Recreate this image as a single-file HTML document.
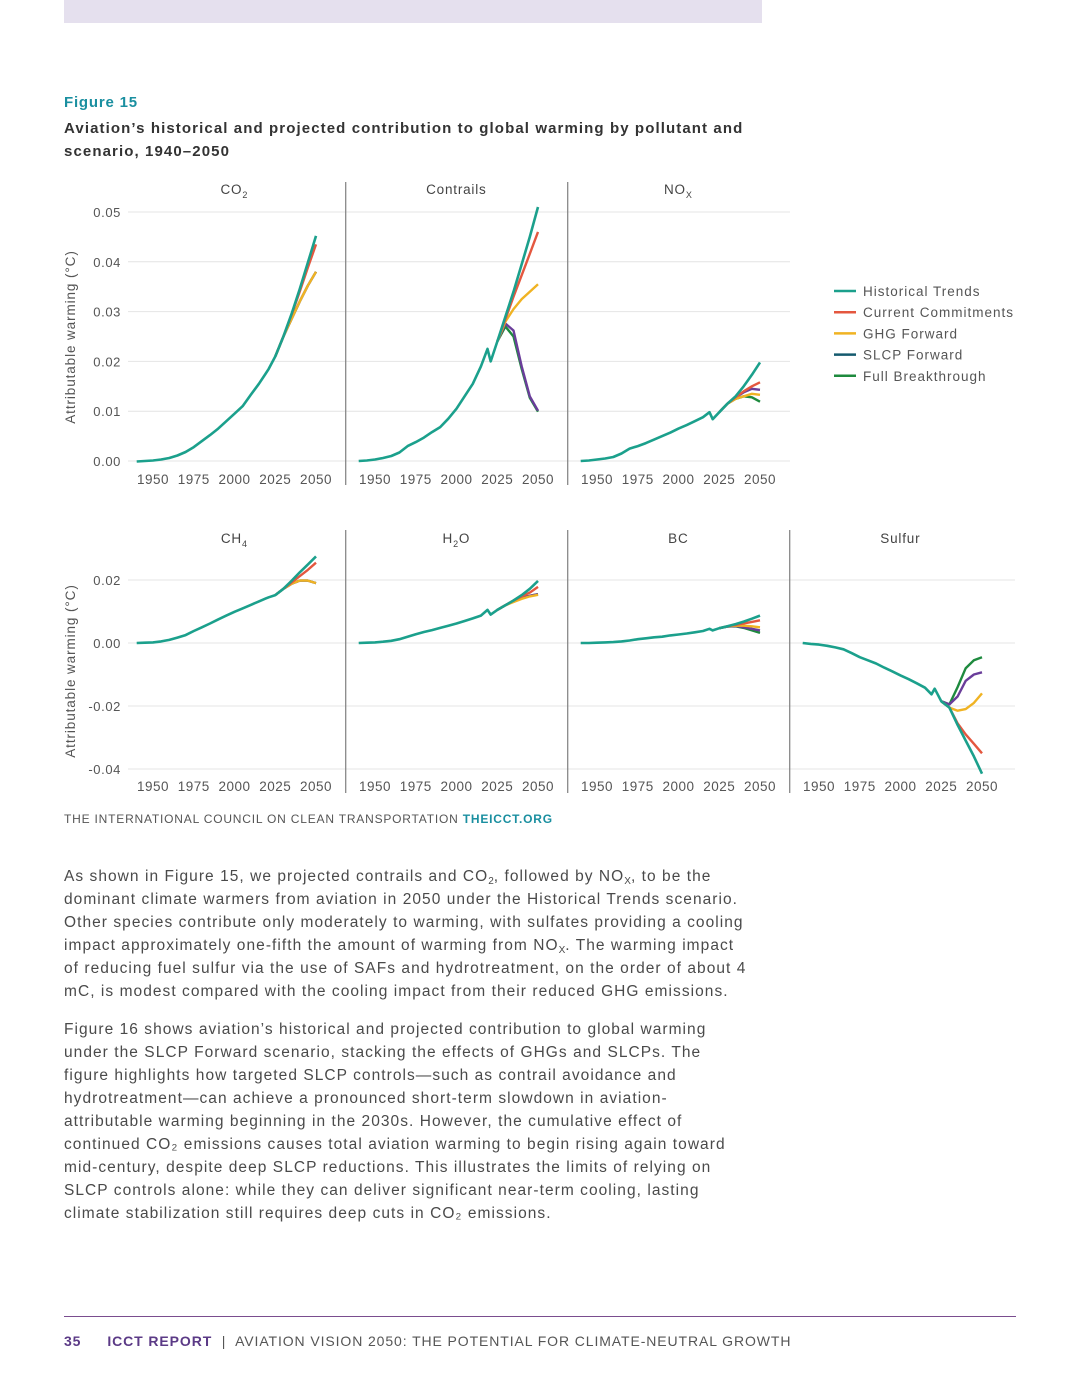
<!DOCTYPE html>
<html><head><meta charset="utf-8">
<style>
body{margin:0;width:1080px;height:1398px;background:#fff;position:relative;font-family:"Liberation Sans",sans-serif;overflow:hidden}
.abs{position:absolute}
.p{position:absolute;left:64px;width:760px;font-size:15.5px;line-height:23px;color:#4a4a4a;white-space:nowrap;letter-spacing:1.05px}
sub{font-size:10px;vertical-align:-3px;line-height:0;letter-spacing:0}
</style></head><body>
<div class="abs" style="left:64px;top:0;width:698px;height:23px;background:#e5e0ee"></div>
<div class="abs" style="left:64px;top:94px;font-size:15px;font-weight:bold;color:#1a8fa0;letter-spacing:0.8px">Figure 15</div>
<div class="abs" style="left:64px;top:117px;width:760px;font-size:15px;font-weight:bold;line-height:23px;color:#333;letter-spacing:1.1px;white-space:nowrap">Aviation’s historical and projected contribution to global warming by pollutant and<br>scenario, 1940–2050</div>
<svg class="abs" style="left:0;top:0" width="1080" height="830" id="chart"></svg>
<div class="abs" style="left:64px;top:812px;font-size:12px;color:#555;letter-spacing:0.8px">THE INTERNATIONAL COUNCIL ON CLEAN TRANSPORTATION <b style="color:#1a8fa0">THEICCT.ORG</b></div>
<div class="p" style="top:865px">As shown in Figure 15, we projected contrails and CO<sub>2</sub>, followed by NO<sub>X</sub>, to be the<br>dominant climate warmers from aviation in 2050 under the Historical Trends scenario.<br>Other species contribute only moderately to warming, with sulfates providing a cooling<br>impact approximately one-fifth the amount of warming from NO<sub>X</sub>. The warming impact<br>of reducing fuel sulfur via the use of SAFs and hydrotreatment, on the order of about 4<br>mC, is modest compared with the cooling impact from their reduced GHG emissions.</div>
<div class="p" style="top:1018px">Figure 16 shows aviation’s historical and projected contribution to global warming<br>under the SLCP Forward scenario, stacking the effects of GHGs and SLCPs. The<br>figure highlights how targeted SLCP controls—such as contrail avoidance and<br>hydrotreatment—can achieve a pronounced short-term slowdown in aviation-<br>attributable warming beginning in the 2030s. However, the cumulative effect of<br>continued CO₂ emissions causes total aviation warming to begin rising again toward<br>mid-century, despite deep SLCP reductions. This illustrates the limits of relying on<br>SLCP controls alone: while they can deliver significant near-term cooling, lasting<br>climate stabilization still requires deep cuts in CO₂ emissions.</div>
<div class="abs" style="left:64px;top:1316px;width:952px;height:1px;background:#7a4d8f"></div>
<div class="abs" style="left:64px;top:1333px;font-size:14px;color:#555;letter-spacing:0.9px;white-space:nowrap"><b style="color:#5b3a86">35</b><span style="display:inline-block;width:26px"></span><b style="color:#5b3a86">ICCT REPORT</b> &nbsp;|&nbsp; AVIATION VISION 2050: THE POTENTIAL FOR CLIMATE-NEUTRAL GROWTH</div>
<script>
const years=[1940,1945,1950,1955,1960,1965,1970,1975,1980,1985,1990,1995,2000,2005,2010,2015,2019,2021,2025,2030,2035,2040,2045,2050];
const scenYears=[2025,2030,2035,2040,2045,2050];
const seriesNames=["Historical Trends","Current Commitments","GHG Forward","SLCP Forward","Full Breakthrough"];
const seriesColors=["#1ba08c","#e4573f","#f0b323","#6a3d9a","#1e8a3e"];
const legendColors=["#1ba08c","#e4573f","#f0b323","#145a6e","#1e8a3e"];
const topTicks=[0,0.01,0.02,0.03,0.04,0.05];
const topTickLabels=["0.00","0.01","0.02","0.03","0.04","0.05"];
const botTicks=[0.02,0,-0.02,-0.04];
const botTickLabels=["0.02","0.00","-0.02","-0.04"];
const xTicks=[1950,1975,2000,2025,2050];
const co2Hist=[-0.0001,0,0.0001,0.0003,0.0006,0.0011,0.0018,0.0028,0.004,0.0052,0.0065,0.008,0.0095,0.011,0.0133,0.0155,0.0175,0.0185,0.021,0.025,0.0295,0.0345,0.0398,0.0452];
const co2Cur=[0.021,0.025,0.0293,0.034,0.0388,0.0435];
const co2Ghg=[0.021,0.025,0.0285,0.032,0.0352,0.038];
const co2Slcp=[0.021,0.025,0.0285,0.032,0.0352,0.038];
const co2Full=[0.021,0.025,0.0285,0.032,0.0352,0.038];
const conHist=[0,0.0001,0.0003,0.0006,0.001,0.0017,0.003,0.0038,0.0047,0.0058,0.0068,0.0085,0.0105,0.013,0.0155,0.019,0.0225,0.020,0.024,0.029,0.034,0.0395,0.045,0.051];
const conCur=[0.024,0.0285,0.033,0.0373,0.0416,0.046];
const conGhg=[0.024,0.028,0.0305,0.0325,0.034,0.0355];
const conSlcp=[0.024,0.0276,0.0262,0.019,0.013,0.0101];
const conFull=[0.024,0.027,0.025,0.0185,0.0127,0.0099];
const noxHist=[0,0.0001,0.0003,0.0005,0.0008,0.0015,0.0025,0.003,0.0036,0.0043,0.005,0.0057,0.0065,0.0072,0.008,0.0088,0.0098,0.0084,0.0098,0.0115,0.013,0.015,0.0173,0.0198];
const noxCur=[0.0098,0.0115,0.0128,0.014,0.015,0.0158];
const noxGhg=[0.0098,0.0115,0.0125,0.013,0.0135,0.0133];
const noxSlcp=[0.0098,0.0115,0.0128,0.0138,0.0145,0.0143];
const noxFull=[0.0098,0.0115,0.0125,0.013,0.0128,0.0119];
const ch4Hist=[0,0.0001,0.0002,0.0005,0.001,0.0017,0.0025,0.0038,0.005,0.0062,0.0075,0.0087,0.0099,0.011,0.0121,0.0132,0.0141,0.0145,0.0152,0.0172,0.0197,0.0224,0.0249,0.0275];
const ch4Cur=[0.0152,0.0172,0.0192,0.0212,0.0232,0.0255];
const ch4Ghg=[0.0152,0.0172,0.0188,0.0198,0.0198,0.019];
const ch4Slcp=[0.0152,0.0172,0.0188,0.0198,0.0198,0.019];
const ch4Full=[0.0152,0.0172,0.0188,0.0198,0.0198,0.019];
const h2oHist=[0,0.0001,0.0002,0.0004,0.0007,0.0012,0.002,0.0028,0.0035,0.0041,0.0048,0.0055,0.0062,0.007,0.0078,0.0087,0.0105,0.009,0.0105,0.012,0.0135,0.0152,0.0172,0.0197];
const h2oCur=[0.0105,0.012,0.0135,0.0148,0.016,0.0178];
const h2oGhg=[0.0105,0.012,0.013,0.014,0.0148,0.0153];
const h2oSlcp=[0.0105,0.012,0.0132,0.0143,0.015,0.0155];
const h2oFull=[0.0105,0.012,0.0132,0.0143,0.015,0.0155];
const bcHist=[0,0,0.0001,0.0002,0.0003,0.0005,0.0008,0.0012,0.0015,0.0018,0.002,0.0024,0.0027,0.003,0.0034,0.0038,0.0045,0.004,0.0047,0.0053,0.006,0.0068,0.0077,0.0087];
const bcCur=[0.0047,0.0053,0.0057,0.0062,0.0067,0.0072];
const bcGhg=[0.0047,0.0053,0.0055,0.0055,0.0053,0.005];
const bcSlcp=[0.0047,0.0052,0.0054,0.005,0.0045,0.004];
const bcFull=[0.0047,0.0052,0.0053,0.0048,0.004,0.0032];
const sulHist=[0,-0.0003,-0.0005,-0.0009,-0.0014,-0.002,-0.0032,-0.0045,-0.0055,-0.0065,-0.0078,-0.009,-0.0103,-0.0115,-0.0128,-0.0142,-0.0163,-0.0145,-0.0185,-0.0205,-0.026,-0.031,-0.036,-0.0415];
const sulCur=[-0.0185,-0.0205,-0.0255,-0.029,-0.032,-0.035];
const sulGhg=[-0.0185,-0.0205,-0.0215,-0.021,-0.019,-0.016];
const sulSlcp=[-0.0185,-0.0195,-0.017,-0.012,-0.01,-0.0093];
const sulFull=[-0.0185,-0.0195,-0.014,-0.008,-0.0055,-0.0045];

const panels=[
 {row:0,col:0,title:"CO<tspan font-size='9' dy='4'>2</tspan>",name:"co2",h:co2Hist,s:[co2Cur,co2Ghg,co2Slcp,co2Full]},
 {row:0,col:1,title:"Contrails",name:"contrails",h:conHist,s:[conCur,conGhg,conSlcp,conFull]},
 {row:0,col:2,title:"NO<tspan font-size='9' dy='4'>X</tspan>",name:"nox",h:noxHist,s:[noxCur,noxGhg,noxSlcp,noxFull]},
 {row:1,col:0,title:"CH<tspan font-size='9' dy='4'>4</tspan>",name:"ch4",h:ch4Hist,s:[ch4Cur,ch4Ghg,ch4Slcp,ch4Full]},
 {row:1,col:1,title:"H<tspan font-size='9' dy='4'>2</tspan><tspan dy='-4'>O</tspan>",name:"h2o",h:h2oHist,s:[h2oCur,h2oGhg,h2oSlcp,h2oFull]},
 {row:1,col:2,title:"BC",name:"bc",h:bcHist,s:[bcCur,bcGhg,bcSlcp,bcFull]},
 {row:1,col:3,title:"Sulfur",name:"sulfur",h:sulHist,s:[sulCur,sulGhg,sulSlcp,sulFull]}
];
const svg=document.getElementById('chart');
const NS="http://www.w3.org/2000/svg";
function mk(t,a,p){const e=document.createElementNS(NS,t);for(const k in a)e.setAttribute(k,a[k]);(p||svg).appendChild(e);return e;}
function xS(col,yr){return 136.7+222*col+(yr-1940)*1.63;}
function yS(row,v){return row===0?461-v*4980:643-v*3150;}
const F='"Liberation Sans",sans-serif';
[0,1].forEach(row=>{
  const ticks=row===0?topTicks:botTicks, labs=row===0?topTickLabels:botTickLabels;
  ticks.forEach((t,i)=>{
    const g=mk('line',{x1:128,x2:row===0?790:1015,y1:yS(row,t),y2:yS(row,t),stroke:'#e4e4e4','stroke-width':1});
    
    
    const tx=mk('text',{x:121,y:yS(row,t)+5,'text-anchor':'end','font-size':13,fill:'#555','font-family':F,'letter-spacing':0.6});
    tx.textContent=labs[i];
    
    
  });
  const cy=row===0?337:671;
  const at=mk('text',{x:0,y:0,transform:`translate(75,${cy}) rotate(-90)`,'text-anchor':'middle','font-size':13.5,fill:'#555','font-family':F,'letter-spacing':0.9});
  at.textContent="Attributable warming (°C)";
  
  
  const ncol=row===0?3:4;
  for(let c=1;c<ncol;c++){
    const l=mk('line',{x1:124+222*c-0.3,x2:124+222*c-0.3,y1:row===0?182:530,y2:row===0?485:793,stroke:'#888','stroke-width':1.3});
    
    
  }
});
panels.forEach(p=>{
  const g=mk('g',{});
  
  
  const ty=p.row===0?194:543;
  const t=mk('text',{x:xS(p.col,1995)+8,y:ty,'text-anchor':'middle','font-size':13.5,fill:'#444','font-family':F,'letter-spacing':0.8},g);
  t.innerHTML=p.title;
  
  
  xTicks.forEach(yr=>{
    const xt=mk('text',{x:xS(p.col,yr),y:p.row===0?484:791,'text-anchor':'middle','font-size':13.5,fill:'#555','font-family':F,'letter-spacing':0.5},g);
    xt.textContent=yr;
    
    
  });
  const order=[3,2,1,0];
  order.forEach(i=>{
    const d=p.s[i].map((v,k)=>(k?'L':'M')+xS(p.col,scenYears[k]).toFixed(1)+','+yS(p.row,v).toFixed(1)).join('');
    const pa=mk('path',{d:d,fill:'none',stroke:seriesColors[i+1],'stroke-width':2.4,'stroke-linejoin':'round'},g);
    
    
  });
  const d=p.h.map((v,k)=>(k?'L':'M')+xS(p.col,years[k]).toFixed(1)+','+yS(p.row,v).toFixed(1)).join('');
  const ph=mk('path',{d:d,fill:'none',stroke:seriesColors[0],'stroke-width':2.6,'stroke-linejoin':'round'},g);
  
  
});
seriesNames.forEach((n,i)=>{
  const y=291+i*21.2;
  const l=mk('line',{x1:834,x2:856,y1:y,y2:y,stroke:legendColors[i],'stroke-width':2.5});
  
  
  const t=mk('text',{x:863,y:y+5,'font-size':13.5,fill:'#555','font-family':F,'letter-spacing':1});
  t.textContent=n;
  
  
});
</script>
</body></html>
